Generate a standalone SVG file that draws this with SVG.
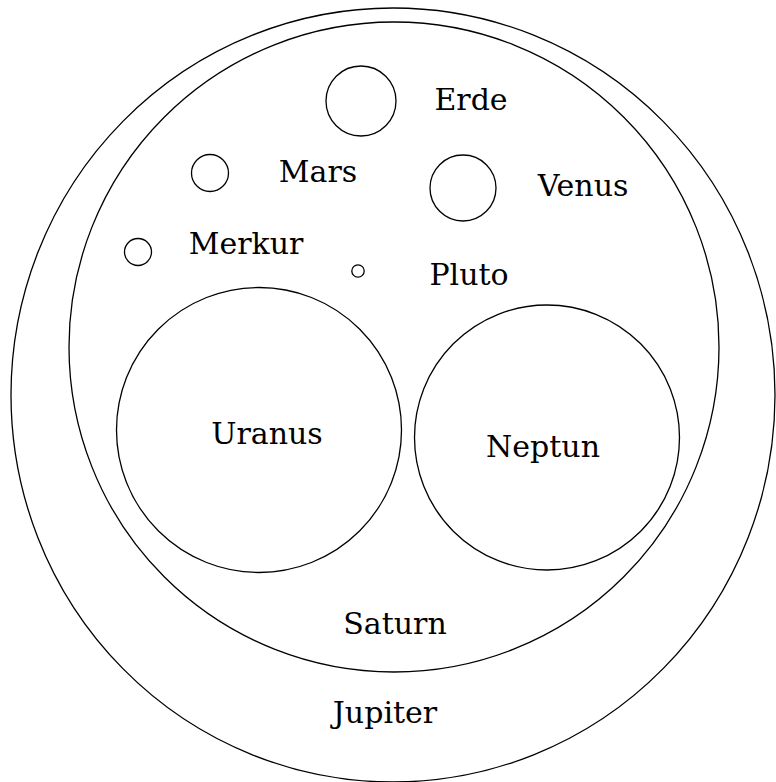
<svg xmlns="http://www.w3.org/2000/svg" width="776" height="782" viewBox="0 0 776 782">
<style>
.b{fill:none;stroke:#000;stroke-width:1.3}
text{font-family:"DejaVu Serif",serif;font-size:30px;fill:#000;text-anchor:middle}
</style>
<rect width="776" height="782" fill="#fff"/>
<g id="jupiter"><ellipse class="b" cx="393" cy="395" rx="382" ry="387"/><text x="385" y="723">Jupiter</text></g>
<g id="saturn"><ellipse class="b" cx="394" cy="347" rx="325" ry="325"/><text x="395" y="634">Saturn</text></g>
<g id="erde"><circle class="b" cx="361" cy="101" r="35"/><text x="471" y="110">Erde</text></g>
<g id="mars"><circle class="b" cx="210" cy="173" r="18.5"/><text x="318" y="182">Mars</text></g>
<g id="venus"><circle class="b" cx="463" cy="188" r="33"/><text x="583" y="196">Venus</text></g>
<g id="merkur"><circle class="b" cx="138" cy="252" r="13.5"/><text x="246" y="254">Merkur</text></g>
<g id="pluto"><circle class="b" cx="358" cy="271" r="6.2"/><text x="469" y="285">Pluto</text></g>
<g id="uranus"><circle class="b" cx="259" cy="430" r="142.5"/><text x="267" y="444">Uranus</text></g>
<g id="neptun"><circle class="b" cx="547" cy="437.5" r="132.5"/><text x="543" y="457">Neptun</text></g>
<g id="connectors"/>
</svg>
